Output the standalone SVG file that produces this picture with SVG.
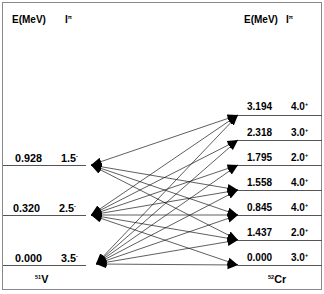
<svg xmlns="http://www.w3.org/2000/svg" width="324" height="294" viewBox="0 0 324 294">
<style>
text{font-family:"Liberation Sans",Arial,sans-serif;font-weight:bold;font-size:10px;fill:#000}
.big{font-size:10.8px}
.sup{font-size:5.5px}
.lvl{stroke:#555;stroke-width:1}
.con line{stroke:#1a1a1a;stroke-width:0.7;marker-start:url(#ah);marker-end:url(#ah)}
</style>
<defs>
<marker id="ah" markerUnits="userSpaceOnUse" markerWidth="11" markerHeight="11" viewBox="0 0 11 11" refX="10.5" refY="5.5" orient="auto-start-reverse">
<path d="M0,1.3 L10.5,5.5 L0,9.7 z" fill="#000"/>
</marker>
</defs>
<rect x="2.5" y="2.5" width="319" height="287" fill="#fff" stroke="#888" stroke-width="1"/>
<g id="headers">
<text x="12" y="23">E(MeV)</text>
<text x="65" y="23">I<tspan class="sup" dy="-4">π</tspan></text>
<text x="244" y="23">E(MeV)</text>
<text x="286" y="23">I<tspan class="sup" dy="-4">π</tspan></text>
</g>
<g id="v51">
<g id="L0928"><line class="lvl" x1="3" y1="165.5" x2="86" y2="165.5"/><text class="big" x="15" y="162">0.928</text><text class="big" x="61" y="162">1.5<tspan class="sup" dy="-4">-</tspan></text></g>
<g id="L0320"><line class="lvl" x1="3" y1="215.5" x2="86" y2="215.5"/><text class="big" x="13" y="212">0.320</text><text class="big" x="59" y="212">2.5<tspan class="sup" dy="-4">-</tspan></text></g>
<g id="L0000"><line class="lvl" x1="3" y1="265.5" x2="86" y2="265.5"/><text class="big" x="15" y="262">0.000</text><text class="big" x="61" y="262">3.5<tspan class="sup" dy="-4">-</tspan></text></g>
<text class="big" x="35" y="283"><tspan class="sup" dy="-4">51</tspan><tspan dy="4">V</tspan></text>
</g>
<g id="cr52">
<g id="R3194"><line class="lvl" x1="238" y1="115.5" x2="322" y2="115.5"/><text x="247" y="110">3.194</text><text x="291" y="110">4.0<tspan class="sup" dy="-4">+</tspan></text></g>
<g id="R2318"><line class="lvl" x1="238" y1="140.5" x2="322" y2="140.5"/><text x="247" y="136">2.318</text><text x="291" y="136">3.0<tspan class="sup" dy="-4">+</tspan></text></g>
<g id="R1795"><line class="lvl" x1="238" y1="165.5" x2="322" y2="165.5"/><text x="247" y="161">1.795</text><text x="291" y="161">2.0<tspan class="sup" dy="-4">+</tspan></text></g>
<g id="R1558"><line class="lvl" x1="238" y1="190.5" x2="322" y2="190.5"/><text x="247" y="186">1.558</text><text x="291" y="186">4.0<tspan class="sup" dy="-4">+</tspan></text></g>
<g id="R0845"><line class="lvl" x1="238" y1="215.5" x2="322" y2="215.5"/><text x="247" y="211">0.845</text><text x="291" y="211">4.0<tspan class="sup" dy="-4">+</tspan></text></g>
<g id="R1437"><line class="lvl" x1="238" y1="240.5" x2="322" y2="240.5"/><text x="247" y="236">1.437</text><text x="291" y="236">2.0<tspan class="sup" dy="-4">+</tspan></text></g>
<g id="R0000"><line class="lvl" x1="238" y1="265.5" x2="322" y2="265.5"/><text x="247" y="261">0.000</text><text x="291" y="261">3.0<tspan class="sup" dy="-4">+</tspan></text></g>
<text class="big" x="268" y="283"><tspan class="sup" dy="-4">52</tspan><tspan dy="4">Cr</tspan></text>
</g>
<g id="connectors" class="con">
<line x1="91" y1="165" x2="238" y2="115"/>
<line x1="91" y1="165" x2="238" y2="190"/>
<line x1="91" y1="165" x2="238" y2="215"/>
<line x1="91" y1="165" x2="238" y2="240"/>
<line x1="91" y1="215" x2="238" y2="115"/>
<line x1="91" y1="215" x2="238" y2="140"/>
<line x1="91" y1="215" x2="238" y2="165"/>
<line x1="91" y1="215" x2="238" y2="190"/>
<line x1="91" y1="215" x2="238" y2="215"/>
<line x1="91" y1="215" x2="238" y2="240"/>
<line x1="91" y1="215" x2="238" y2="265"/>
<line x1="96" y1="264" x2="238" y2="115"/>
<line x1="96" y1="264" x2="238" y2="140"/>
<line x1="96" y1="264" x2="238" y2="165"/>
<line x1="96" y1="264" x2="238" y2="190"/>
<line x1="96" y1="264" x2="238" y2="215"/>
<line x1="96" y1="264" x2="238" y2="240"/>
<line x1="96" y1="264" x2="238" y2="265"/>
</g>
</svg>
